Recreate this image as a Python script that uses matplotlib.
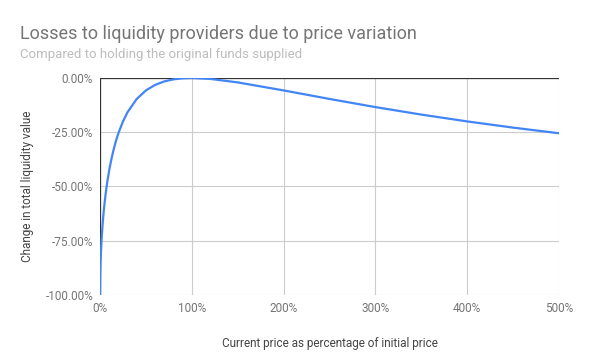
import matplotlib
matplotlib.use("Agg")
import matplotlib.pyplot as plt
from matplotlib.ticker import FuncFormatter

plt.rcParams['font.family'] = ['Roboto', 'DejaVu Sans']

# Price as percentage of initial price
price_pct = [0, 0.2, 0.5, 1, 2, 3, 4, 5, 6, 7, 8, 10, 12, 15, 17.5, 20, 25, 30, 40,
             50, 60, 70, 80, 90, 100, 120, 150, 200, 250, 300, 350, 400, 450, 500]
# Change in total liquidity value (fraction)
change = [-1.0, -0.9107, -0.8593, -0.802, -0.7227, -0.6637, -0.6154, -0.5741, -0.5378,
          -0.5054, -0.4762, -0.4250, -0.3814, -0.3264, -0.2879, -0.2546, -0.2, -0.1573,
          -0.0965, -0.0572, -0.0318, -0.0157, -0.0062, -0.0014, 0.0, -0.0041, -0.0202,
          -0.0572, -0.0965, -0.1340, -0.1685, -0.2, -0.2286, -0.2546]

x_ticks = [0, 100, 200, 300, 400, 500]
y_ticks = [0, -0.25, -0.5, -0.75, -1.0]

fig = plt.figure(figsize=(5.99, 3.57), dpi=100)
ax = fig.add_axes([0.167, 0.1737, 0.766, 0.6078])

for xt in x_ticks:
    ax.axvline(xt, color='#cccccc', lw=0.8, zorder=0)
for yt in y_ticks:
    ax.axhline(yt, color='#cccccc', lw=0.8, zorder=0)
ax.axhline(0, color='#333333', lw=0.9, zorder=1)
ax.axvline(0, color='#333333', lw=0.9, zorder=1)

ax.plot(price_pct, change, color='#4285f4', lw=1.6, zorder=3, solid_joinstyle='round')

ax.set_xlim(0, 500)
ax.set_ylim(-1.0, 0.0)
ax.set_xticks(x_ticks)
ax.set_yticks(y_ticks)
ax.xaxis.set_major_formatter(FuncFormatter(lambda v, p: f"{v:.0f}%"))
ax.yaxis.set_major_formatter(FuncFormatter(lambda v, p: f"{v*100:.2f}%"))
ax.tick_params(length=0, labelsize=8.5, labelcolor='#757575', pad=5)
for s in ax.spines.values():
    s.set_visible(False)

ax.set_xlabel("Current price as percentage of initial price", fontsize=8.5,
              color='#444444', labelpad=16)
ax.set_ylabel("Change in total liquidity value", fontsize=8.5, color='#444444', labelpad=8)

fig.text(0.033, 0.905, "Losses to liquidity providers due to price variation",
         fontsize=13, color='#757575', va='center', ha='left')
fig.text(0.033, 0.848, "Compared to holding the original funds supplied",
         fontsize=9.5, color='#bdbdbd', va='center', ha='left')

fig.savefig("out.png", dpi=100, facecolor='white')
